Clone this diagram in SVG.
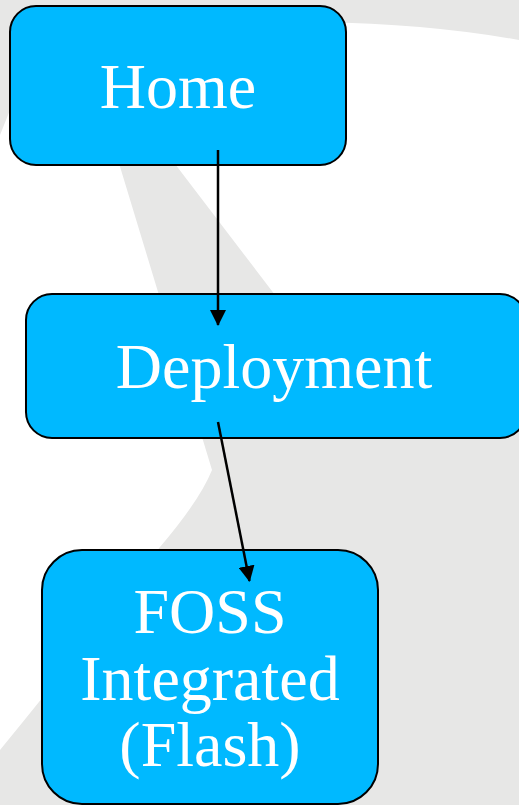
<svg xmlns="http://www.w3.org/2000/svg" width="519" height="805" viewBox="0 0 519 805">
<defs>
<style>
.bg{fill:#e7e7e6;stroke:none}
.node rect{fill:#00b9ff;stroke:#000;stroke-width:2}
.node text{fill:#fff;font-family:"Liberation Serif","Times New Roman",serif;font-size:64px;text-anchor:middle}
.edge{stroke:#000;stroke-width:2.5;fill:none;marker-end:url(#arr)}
</style>
<marker id="arr" viewBox="0 0 16 16" refX="15" refY="8" markerWidth="16" markerHeight="16" markerUnits="userSpaceOnUse" orient="auto">
<path d="M0,0 L16,8 L0,16 Z" fill="#000"/>
</marker>
</defs>
<rect width="519" height="805" fill="#fff"/>
<g id="background">
<path class="bg" d="M0,0 H519 V40 Q430,24 320,22 L12,40 L10,110 L0,135 Z"/>
<path class="bg" d="M118,160 L172,160 L275,295 L519,420 V805 H0 V750 Q90,640 160,547 Q200,500 212,470 Z"/>
</g>
<g id="node-home" class="node">
<rect x="10" y="6" width="336" height="159" rx="26" ry="26"/>
<text x="178" y="108">Home</text>
</g>
<g id="node-deployment" class="node">
<rect x="26" y="294" width="500" height="144" rx="26" ry="26"/>
<text x="274" y="388">Deployment</text>
</g>
<g id="node-foss" class="node">
<rect x="42" y="550" width="336" height="254" rx="40" ry="40"/>
<text x="210" y="633">FOSS</text>
<text x="210" y="700">Integrated</text>
<text x="210" y="766">(Flash)</text>
</g>
<g id="connectors">
<line class="edge" x1="218" y1="150" x2="218" y2="325"/>
<line class="edge" x1="218" y1="422" x2="249.5" y2="581"/>
</g>
</svg>
